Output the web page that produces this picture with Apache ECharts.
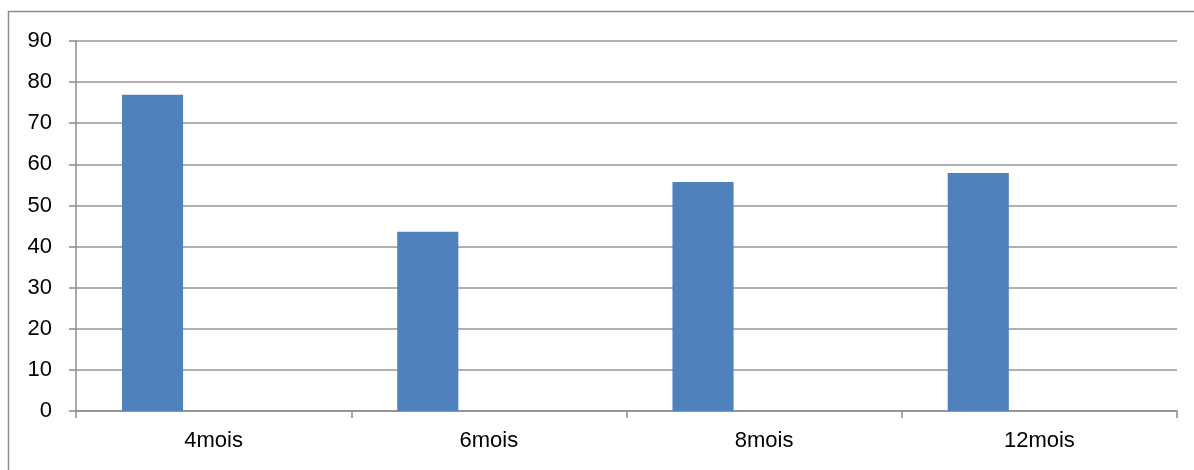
<!DOCTYPE html>
<html>
<head>
<meta charset="utf-8">
<script src="https://cdn.jsdelivr.net/npm/echarts@6/dist/echarts.min.js"></script>
<style>
  html, body { margin: 0; padding: 0; background: #fff; }
  #chart { width: 1194px; height: 470px; }
</style>
</head>
<body>
<div id="chart"></div>
<script>
// Category labels along the x axis
const categories = ['4mois', '6mois', '8mois', '12mois'];
// Values of the plotted series
const seriesValues = [76.9, 43.6, 55.7, 57.9];
// Two further series with no data keep their slots in each category
const emptySeries = [null, null, null, null];
// Value axis ticks
const yTicks = [0, 10, 20, 30, 40, 50, 60, 70, 80, 90];

const chart = echarts.init(document.getElementById('chart'), null, { renderer: 'canvas' });
const font = 'Liberation Sans, Arial, sans-serif';

chart.setOption({
  animation: false,
  backgroundColor: '#ffffff',
  graphic: [{
    type: 'rect',
    shape: { x: 8.5, y: 11.5, width: 1300, height: 500 },
    style: { fill: 'none', stroke: '#8c8c8c', lineWidth: 1.5 },
    silent: true
  }],
  grid: { left: 76, right: 17, top: 41, bottom: 59, containLabel: false },
  xAxis: {
    type: 'category',
    data: categories,
    boundaryGap: true,
    axisLine: { show: true, lineStyle: { color: '#8c8c8c', width: 1.5 } },
    axisTick: { show: true, length: 7, alignWithLabel: false, lineStyle: { color: '#8c8c8c', width: 1.5 } },
    axisLabel: { color: '#000', fontSize: 22, fontFamily: font, margin: 19 }
  },
  yAxis: {
    type: 'value',
    min: yTicks[0],
    max: yTicks[yTicks.length - 1],
    interval: 10,
    axisLine: { show: true, lineStyle: { color: '#8c8c8c', width: 1.5 } },
    axisTick: { show: true, length: 7, lineStyle: { color: '#8c8c8c', width: 1.5 } },
    axisLabel: { color: '#000', fontSize: 22, fontFamily: font, margin: 24 },
    splitLine: { show: true, lineStyle: { color: '#969696', width: 1.5 } }
  },
  series: [
    {
      type: 'bar',
      data: seriesValues,
      itemStyle: { color: '#4f81bd' },
      barGap: '0%',
      barCategoryGap: '33.4%'
    },
    { type: 'bar', data: emptySeries, itemStyle: { color: '#c0504d' } },
    { type: 'bar', data: emptySeries, itemStyle: { color: '#9bbb59' } }
  ]
});
</script>
</body>
</html>
